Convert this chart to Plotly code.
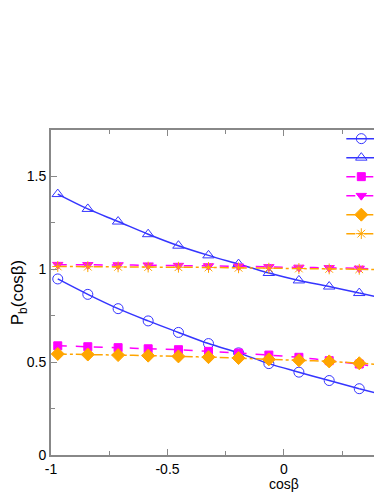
import plotly.graph_objects as go

# cos(beta) sample points
cosb = [-0.971, -0.842, -0.712, -0.583, -0.453, -0.324, -0.195, -0.065, 0.064, 0.194, 0.323]
x_end = 0.455  # right end of the frame (partly outside the window)

circ = [0.948, 0.865, 0.788, 0.722, 0.660, 0.600, 0.550, 0.492, 0.446, 0.401, 0.357]
tri_up = [1.405, 1.325, 1.257, 1.189, 1.127, 1.075, 1.028, 0.980, 0.940, 0.907, 0.872]
square = [0.588, 0.583, 0.578, 0.572, 0.567, 0.558, 0.549, 0.538, 0.526, 0.508, 0.490]
tri_dn = [1.025, 1.024, 1.023, 1.022, 1.020, 1.018, 1.016, 1.013, 1.010, 1.008, 1.005]
diamond = [0.544, 0.541, 0.538, 0.535, 0.531, 0.527, 0.522, 0.515, 0.510, 0.504, 0.494]
star = [1.015, 1.014, 1.013, 1.012, 1.011, 1.010, 1.008, 1.006, 1.004, 1.002, 1.000]

# values of each curve at the right end of the frame
tail = {"circ": 0.315, "tri_up": 0.835, "square": 0.462,
        "tri_dn": 0.998, "diamond": 0.484, "star": 0.997}

BLUE = "#3535ff"
MAG = "#ff00ff"
ORG = "#ffa500"

series = [
    ("circ", circ, "circle-open", BLUE, "solid", 10),
    ("tri_up", tri_up, "triangle-up-open", BLUE, "solid", 10),
    ("square", square, "square", MAG, "dash", 8),
    ("tri_dn", tri_dn, "triangle-down", MAG, "dash", 9),
    ("diamond", diamond, "diamond", ORG, "dashdot", 10),
    ("star", star, "asterisk-open", ORG, "dashdot", 9),
]

fig = go.Figure()
for key, ys, sym, col, dash, size in series:
    fig.add_trace(go.Scatter(
        x=cosb, y=ys, mode="lines+markers", name=" ",
        line=dict(color=col, width=1.5, dash=dash, shape="spline"),
        marker=dict(symbol=sym, size=size, color=col,
                    line=dict(color=col, width=1)),
    ))
    # curve keeps going past the last point
    fig.add_trace(go.Scatter(
        x=[cosb[-1], x_end], y=[ys[-1], tail[key]], mode="lines",
        showlegend=False, hoverinfo="skip",
        line=dict(color=col, width=1.5, dash=dash),
    ))

# page body adds an 8px offset, margins allow for it
fig.update_layout(
    width=382, height=494,
    margin=dict(l=43, r=0, t=122, b=47, autoexpand=False),
    plot_bgcolor="white", paper_bgcolor="white",
    font=dict(family="Liberation Sans, Arial, sans-serif", size=14, color="black"),
    legend=dict(x=0.995, y=1.018, xanchor="right", yanchor="top",
                bgcolor="rgba(0,0,0,0)", font=dict(size=6),
                itemwidth=30, tracegroupgap=0),
    annotations=[dict(text="cosβ", x=0, xref="x", y=0, yref="paper",
                      yanchor="top", yshift=-19, showarrow=False,
                      font=dict(size=14))],
)

fig.update_xaxes(
    range=[-1, x_end], tickvals=[-1, -0.5, 0], ticktext=["-1", "-0.5", "0"],
    ticks="inside", ticklen=6, tickcolor="#888888",
    minor=dict(tickvals=[-0.75, -0.25, 0.25], ticks="inside", ticklen=4,
               tickcolor="#888888"),
    showline=True, linecolor="#888888", linewidth=2, mirror="allticks",
    showgrid=False, zeroline=False, automargin=False,
)
fig.update_yaxes(
    range=[0, 1.75], tickvals=[0, 0.5, 1, 1.5], ticktext=["0", "0.5", "1", "1.5"],
    ticks="inside", ticklen=6, tickcolor="#888888",
    minor=dict(tickvals=[0.25, 0.75, 1.25], ticks="inside", ticklen=4,
               tickcolor="#888888"),
    showline=True, linecolor="#888888", linewidth=2,
    showgrid=False, zeroline=False, automargin=False,
    title=dict(text="P<sub>b</sub>(cosβ)", standoff=6),
)

fig.write_html("out.html")
